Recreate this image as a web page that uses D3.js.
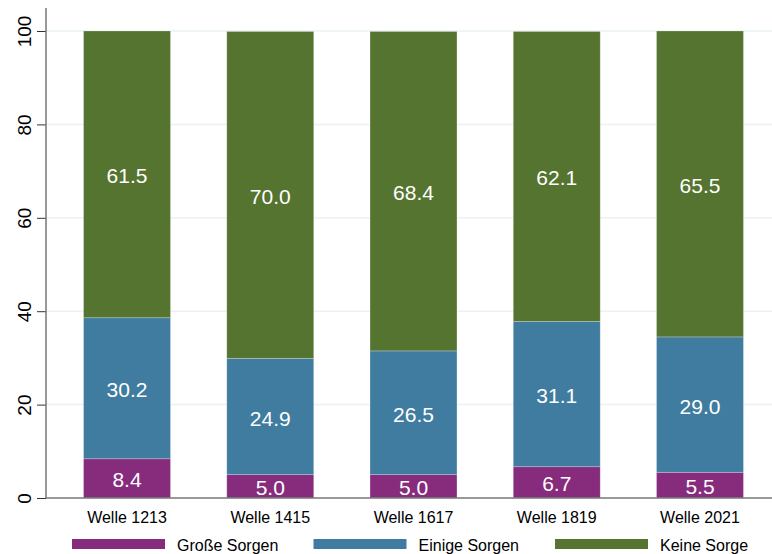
<!DOCTYPE html>
<html>
<head>
<meta charset="utf-8">
<script src="https://cdn.jsdelivr.net/npm/d3@7"></script>
<style>
  body { margin: 0; background: #fff; }
  svg { display: block; font-family: "Liberation Sans", Arial, sans-serif; }
</style>
</head>
<body>
<svg id="chart" width="772" height="554"></svg>
<script>
const categories = ['Welle 1213', 'Welle 1415', 'Welle 1617', 'Welle 1819', 'Welle 2021'];
const seriesNames = ['Große Sorgen', 'Einige Sorgen', 'Keine Sorge'];
const grosseSorgen = [8.4, 5.0, 5.0, 6.7, 5.5];
const einigeSorgen = [30.2, 24.9, 26.5, 31.1, 29.0];
const keineSorge = [61.5, 70.0, 68.4, 62.1, 65.5];
const yTicks = [0, 20, 40, 60, 80, 100];
const colors = ['#872b7d', '#3f7ca0', '#55742f'];

const svg = d3.select('#chart');
const plotLeft = 46, plotRight = 772, plotTop = 8, plotBottom = 498;

const rows = categories.map(function (c, i) {
  return {
    cat: c,
    'Große Sorgen': grosseSorgen[i],
    'Einige Sorgen': einigeSorgen[i],
    'Keine Sorge': keineSorge[i]
  };
});

const x = d3.scaleBand()
  .domain(categories)
  .range([55.4, 771.6])
  .paddingInner(0.393)
  .paddingOuter(0.1965);

const y = d3.scaleLinear().domain([0, 100]).range([plotBottom, 31]);
const z = d3.scaleOrdinal().domain(seriesNames).range(colors);

// grid
svg.append('g')
  .selectAll('line')
  .data(yTicks.filter(function (d) { return d > 0; }))
  .enter()
  .append('line')
  .attr('x1', plotLeft)
  .attr('x2', plotRight)
  .attr('y1', function (d) { return y(d); })
  .attr('y2', function (d) { return y(d); })
  .attr('stroke', '#eaf2f3')
  .attr('stroke-width', 1.5);

const stack = d3.stack().keys(seriesNames)(rows);

const layer = svg.append('g')
  .selectAll('g')
  .data(stack)
  .enter()
  .append('g')
  .attr('fill', function (d) { return z(d.key); });

layer.selectAll('rect')
  .data(function (d) { return d; })
  .enter()
  .append('rect')
  .attr('x', function (d) { return x(d.data.cat); })
  .attr('width', x.bandwidth())
  .attr('y', function (d) { return y(Math.min(d[1], 100)); })
  .attr('height', function (d) { return y(d[0]) - y(Math.min(d[1], 100)); })
  .attr('stroke', 'rgba(255,255,255,0.3)')
  .attr('stroke-width', 0.8);

layer.selectAll('text')
  .data(function (d) { return d; })
  .enter()
  .append('text')
  .attr('x', function (d) { return x(d.data.cat) + x.bandwidth() / 2; })
  .attr('y', function (d) { return (y(d[0]) + y(Math.min(d[1], 100))) / 2 + 9; })
  .attr('text-anchor', 'middle')
  .attr('fill', '#fff')
  .attr('font-size', 21)
  .text(function (d) { return (d[1] - d[0]).toFixed(1); });

// y axis
const yAxis = svg.append('g')
  .attr('transform', 'translate(' + plotLeft + ',0)')
  .call(d3.axisLeft(y).tickValues(yTicks).tickSize(9).tickPadding(10));
yAxis.select('.domain').remove();
yAxis.selectAll('.tick line').attr('stroke', '#333');
yAxis.selectAll('.tick text')
  .attr('font-size', 19)
  .attr('fill', '#000')
  .attr('text-anchor', 'middle')
  .attr('x', null)
  .attr('dy', null)
  .attr('transform', 'translate(-15,0) rotate(-90)');
svg.append('line')
  .attr('x1', plotLeft).attr('x2', plotLeft)
  .attr('y1', plotTop).attr('y2', plotBottom)
  .attr('stroke', '#777').attr('stroke-width', 1.5);

// x axis
const xAxis = svg.append('g')
  .attr('transform', 'translate(0,' + plotBottom + ')')
  .call(d3.axisBottom(x).tickSize(0).tickPadding(14));
xAxis.select('.domain').remove();
xAxis.selectAll('.tick text').attr('font-size', 16).attr('fill', '#000');
svg.append('line')
  .attr('x1', plotLeft).attr('x2', plotRight)
  .attr('y1', plotBottom).attr('y2', plotBottom)
  .attr('stroke', '#777').attr('stroke-width', 1.5);

// legend
const legend = svg.append('g')
  .selectAll('g')
  .data(seriesNames)
  .enter()
  .append('g')
  .attr('transform', function (d, i) { return 'translate(' + (72 + i * 241.5) + ',539)'; });

legend.append('rect')
  .attr('width', 93)
  .attr('height', 10)
  .attr('fill', z);

legend.append('text')
  .attr('x', 105)
  .attr('y', 12)
  .attr('font-size', 16)
  .attr('fill', '#000')
  .text(function (d) { return d; });
</script>
</body>
</html>
